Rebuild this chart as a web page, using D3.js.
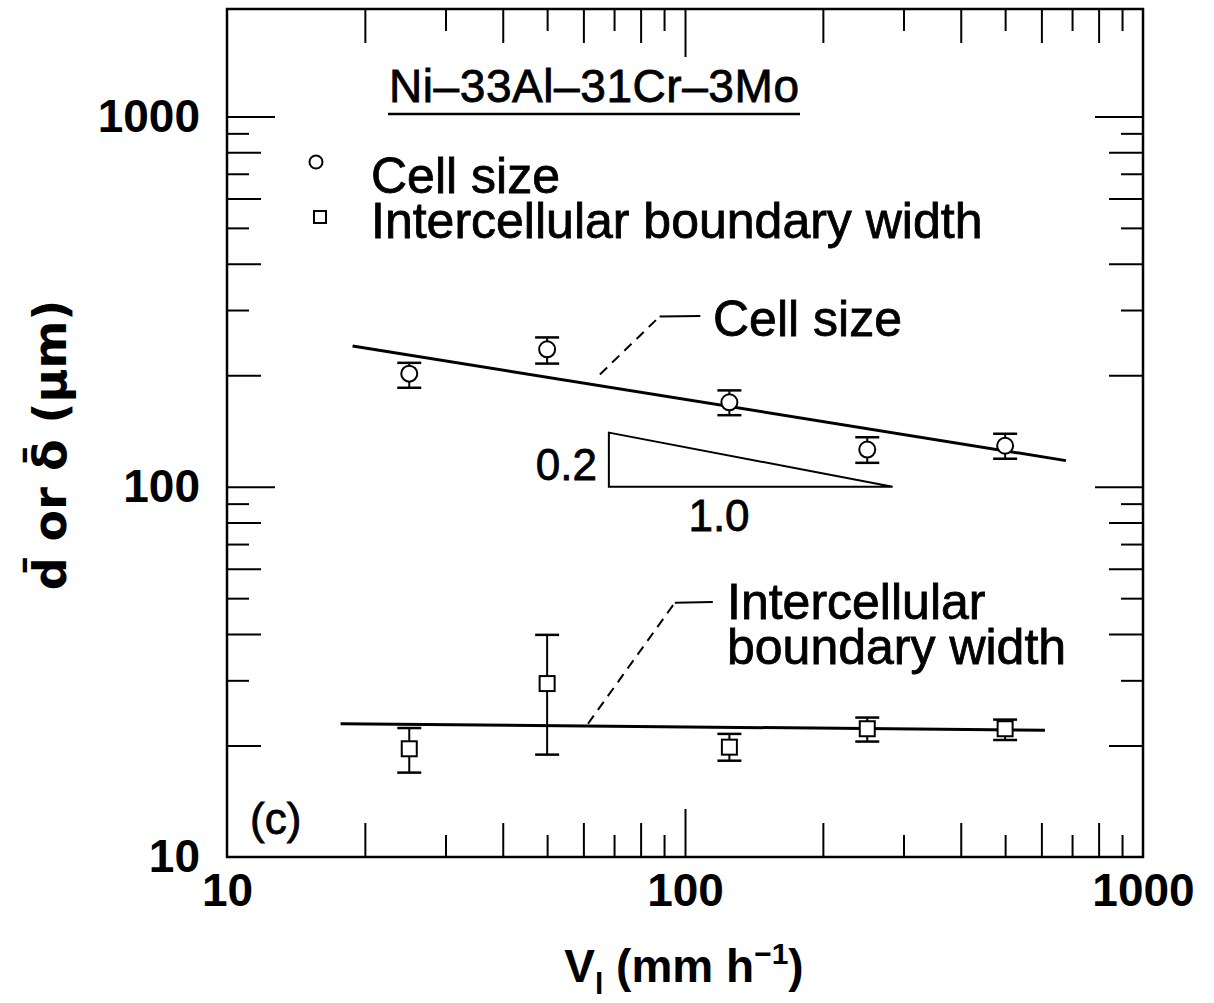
<!DOCTYPE html>
<html>
<head>
<meta charset="utf-8">
<script src="https://cdn.jsdelivr.net/npm/d3@7"></script>
<style>
  body { margin: 0; background: #fff; }
  svg { font-family: 'Liberation Sans', Arial, Helvetica, sans-serif; }
  .label { stroke: #000; stroke-width: 0.8; }
</style>
</head>
<body>
<div id="chart-container"></div>
<script>
const velocity = [25, 50, 125, 250, 500]
const cellSize = [202, 235, 169, 126, 129]
const cellLow = [185, 215, 156, 116, 119]
const cellHigh = [216, 253, 182, 136, 139]
const boundaryWidth = [19.6, 29.4, 19.8, 22.2, 22.2]
const boundaryLow = [16.9, 18.9, 18.2, 20.5, 20.7]
const boundaryHigh = [22.3, 39.8, 21.5, 23.8, 23.5]

// fitted lines (end points)
const cellFitV = [18.8, 679]
const cellFitD = [240, 117.6]
const boundaryFitV = [17.7, 611]
const boundaryFitD = [22.9, 22.0]

// slope triangle
const triangleV = [68.2, 284]
const triangleD = [140, 100]

const xTickLabels = [10, 100, 1000]
const yTickLabels = [10, 100, 1000]

const W = 1214
const H = 1003
const mLeft = 227, mRight = 1143, mTop = 9, mBottom = 857

const x = d3.scaleLog().domain([10, 1000]).range([mLeft, mRight])
const y = d3.scaleLog().domain([10, 1950]).range([mBottom, mTop])

const svg = d3
  .select('#chart-container')
  .append('svg')
  .attr('width', W)
  .attr('height', H)

// minor tick sets
function minorTicks(dom, parity) {
  const out = []
  for (let e = 1; e < 4; e++) {
    const base = Math.pow(10, e)
    for (let m = 2; m <= 9; m++) {
      if ((m % 2 === 0) === (parity === 'even')) {
        const v = m * base
        if (v < dom[1]) out.push(v)
      }
    }
  }
  return out
}

const tickSets = [
  { xv: [100], yv: [100, 1000], size: 48 },
  { xv: minorTicks(x.domain(), 'even'), yv: minorTicks(y.domain(), 'even'), size: 34 },
  { xv: minorTicks(x.domain(), 'odd'), yv: minorTicks(y.domain(), 'odd'), size: 22 },
]

tickSets.forEach((t) => {
  svg.append('g').attr('class', 'tick-axis').attr('transform', `translate(0,${mBottom})`)
    .call(d3.axisTop(x).tickValues(t.xv).tickSize(t.size).tickFormat(''))
  svg.append('g').attr('class', 'tick-axis').attr('transform', `translate(0,${mTop})`)
    .call(d3.axisBottom(x).tickValues(t.xv).tickSize(t.size).tickFormat(''))
  svg.append('g').attr('class', 'tick-axis').attr('transform', `translate(${mLeft},0)`)
    .call(d3.axisRight(y).tickValues(t.yv).tickSize(t.size).tickFormat(''))
  svg.append('g').attr('class', 'tick-axis').attr('transform', `translate(${mRight},0)`)
    .call(d3.axisLeft(y).tickValues(t.yv).tickSize(t.size).tickFormat(''))
})
svg.selectAll('.tick-axis .domain').remove()
svg.selectAll('.tick-axis line').attr('stroke', '#000').attr('stroke-width', 2)

// frame
svg.append('rect')
  .attr('x', mLeft).attr('y', mTop)
  .attr('width', mRight - mLeft).attr('height', mBottom - mTop)
  .attr('fill', 'none').attr('stroke', '#000').attr('stroke-width', 2.5)

// tick labels
const xl = svg.append('g').attr('transform', `translate(0,${mBottom})`)
  .call(d3.axisBottom(x).tickValues(xTickLabels).tickSize(0).tickPadding(16).tickFormat(d3.format('d')))
const yl = svg.append('g').attr('transform', `translate(${mLeft},0)`)
  .call(d3.axisLeft(y).tickValues(yTickLabels).tickSize(0).tickPadding(27).tickFormat(d3.format('d')))
;[xl, yl].forEach((g) => {
  g.select('.domain').remove()
  g.selectAll('text').attr('font-size', 46).attr('font-weight', 'bold').attr('fill', '#000')
    .attr('font-family', "'Liberation Sans', Arial, sans-serif")
})

// axis titles
const xt = svg.append('text')
  .attr('x', 684).attr('y', 982)
  .attr('text-anchor', 'middle')
  .attr('font-size', 46).attr('font-weight', 'bold')
xt.append('tspan').text('V')
xt.append('tspan').attr('font-size', 30).attr('dy', 12).text('l')
xt.append('tspan').attr('dy', -12).text(' (mm h')
xt.append('tspan').attr('font-size', 30).attr('dy', -18).text('\u22121')
xt.append('tspan').attr('dy', 18).text(')')

svg.append('text')
  .attr('transform', 'translate(66,445) rotate(-90)')
  .attr('text-anchor', 'middle')
  .attr('font-size', 46).attr('font-weight', 'bold')
  .attr('font-family', "'DejaVu Sans', 'Liberation Sans', sans-serif")
  .text('d\u0304 or \u03b4\u0304 (\u03bcm)')

// fitted lines
const line = d3.line().x((d) => x(d[0])).y((d) => y(d[1]))
svg.append('path')
  .datum(d3.zip(cellFitV, cellFitD))
  .attr('d', line).attr('fill', 'none').attr('stroke', '#000').attr('stroke-width', 3)
svg.append('path')
  .datum(d3.zip(boundaryFitV, boundaryFitD))
  .attr('d', line).attr('fill', 'none').attr('stroke', '#000').attr('stroke-width', 3)

// slope triangle
svg.append('path')
  .datum([[triangleV[0], triangleD[0]], [triangleV[0], triangleD[1]], [triangleV[1], triangleD[1]]])
  .attr('d', (d) => line(d) + 'Z')
  .attr('fill', 'none').attr('stroke', '#000').attr('stroke-width', 2)
svg.append('text').attr('class', 'label')
  .attr('x', x(triangleV[0]) - 12).attr('y', y(Math.sqrt(triangleD[0] * triangleD[1])) + 20)
  .attr('text-anchor', 'end').attr('font-size', 44)
  .text('0.2')
svg.append('text').attr('class', 'label')
  .attr('x', 719).attr('y', y(triangleD[1]) + 44)
  .attr('text-anchor', 'middle').attr('font-size', 44)
  .text('1.0')

// error bars + markers
function drawSeries(vals, lo, hi, shape) {
  const g = svg.append('g')
  velocity.forEach((v, i) => {
    const cx = x(v)
    g.append('line')
      .attr('x1', cx).attr('x2', cx).attr('y1', y(lo[i])).attr('y2', y(hi[i]))
      .attr('stroke', '#000').attr('stroke-width', 2)
    ;[lo[i], hi[i]].forEach((e) => {
      g.append('line')
        .attr('x1', cx - 12).attr('x2', cx + 12).attr('y1', y(e)).attr('y2', y(e))
        .attr('stroke', '#000').attr('stroke-width', 2.5)
    })
    if (shape === 'circle') {
      g.append('circle').attr('cx', cx).attr('cy', y(vals[i])).attr('r', 8)
        .attr('fill', '#fff').attr('stroke', '#000').attr('stroke-width', 2)
    } else {
      g.append('rect').attr('x', cx - 7.5).attr('y', y(vals[i]) - 7.5)
        .attr('width', 15).attr('height', 15)
        .attr('fill', '#fff').attr('stroke', '#000').attr('stroke-width', 2)
    }
  })
}
drawSeries(cellSize, cellLow, cellHigh, 'circle')
drawSeries(boundaryWidth, boundaryLow, boundaryHigh, 'square')

// leader lines and labels
function leader(p0, p1, p2) {
  svg.append('line')
    .attr('x1', x(p0[0])).attr('y1', y(p0[1])).attr('x2', x(p1[0])).attr('y2', y(p1[1]))
    .attr('stroke', '#000').attr('stroke-width', 2).attr('stroke-dasharray', '10,7')
  svg.append('line')
    .attr('x1', x(p1[0])).attr('y1', y(p1[1])).attr('x2', x(p2[0])).attr('y2', y(p2[1]))
    .attr('stroke', '#000').attr('stroke-width', 2)
}
leader([65.2, 201], [88, 288], [108, 289])
leader([61.4, 22.9], [95, 48.6], [115, 48.8])

svg.append('text').attr('class', 'label').attr('x', 713).attr('y', 336)
  .attr('font-size', 50).text('Cell size')
const ib = svg.append('text').attr('class', 'label').attr('font-size', 50)
ib.append('tspan').attr('x', 727).attr('y', 619).text('Intercellular')
ib.append('tspan').attr('x', 727).attr('y', 664).text('boundary width')

// title
svg.append('text').attr('class', 'label').attr('x', 594).attr('y', 102)
  .attr('text-anchor', 'middle').attr('font-size', 46).attr('textLength', 410)
  .text('Ni\u201333Al\u201331Cr\u20133Mo')
svg.append('line').attr('x1', 388).attr('x2', 800).attr('y1', 114).attr('y2', 114)
  .attr('stroke', '#000').attr('stroke-width', 2.5)

// legend
svg.append('circle').attr('cx', 316).attr('cy', 162).attr('r', 6.5)
  .attr('fill', '#fff').attr('stroke', '#000').attr('stroke-width', 2)
svg.append('rect').attr('x', 314).attr('y', 211).attr('width', 12).attr('height', 12)
  .attr('fill', '#fff').attr('stroke', '#000').attr('stroke-width', 2)
const lg = svg.append('text').attr('class', 'label').attr('font-size', 50)
lg.append('tspan').attr('x', 371).attr('y', 193).text('Cell size')
lg.append('tspan').attr('x', 371).attr('y', 238).text('Intercellular boundary width')

svg.append('text').attr('class', 'label').attr('x', 250).attr('y', 834).attr('font-size', 44).text('(c)')
</script>
</body>
</html>
